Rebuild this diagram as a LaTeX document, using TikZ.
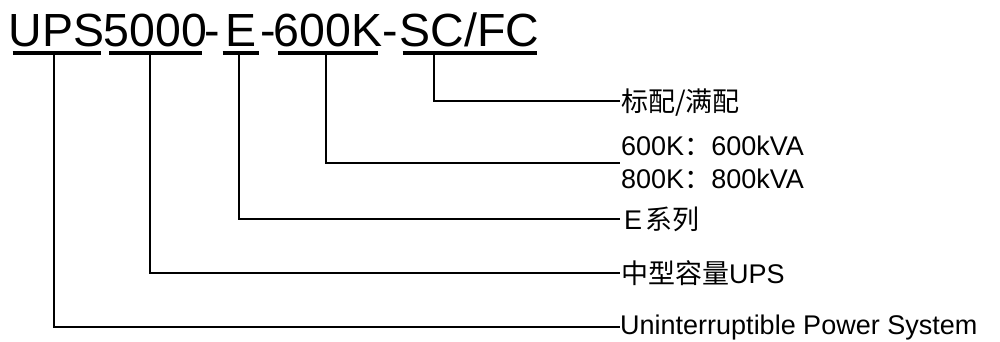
\documentclass[tikz,border=0pt]{standalone}
\usepackage{fontspec}
\setmainfont{Liberation Sans}
\newfontfamily\cjk{Noto Sans CJK SC}
\begin{document}
\begin{tikzpicture}[x=1pt,y=-1pt,
  ttl/.style={inner sep=0pt, anchor=base, font=\fontsize{46.5}{50}\selectfont},
  lbl/.style={inner sep=0pt, anchor=base west, font=\fontsize{27}{30}\selectfont},
  uline/.style={line width=4.5pt},
  conn/.style={line width=2pt, line join=miter}]
\useasboundingbox[fill=white] (0,0) rectangle (1000,341);
% title segments
\node[ttl] (tUPS) at (56.7,46.7) {UPS};
\node[ttl] (t5000) at (155.5,46.7) {5000};
\node[ttl] (h1) at (212.2,46.7) {-};
\node[ttl] (tE) at (241,46.7) {E};
\node[ttl] (h2) at (268.7,46.7) {-};
\node[ttl] (t600K) at (328.2,46.7) {600K};
\node[ttl] (h3) at (390.5,46.7) {-};
\node[ttl] (tSC) at (469.7,46.7) {SC/FC};
% underlines
\draw[uline] (12.7,53) -- (100.7,53);
\draw[uline] (109.3,53) -- (201.7,53);
\draw[uline] (222.7,53) -- (259.3,53);
\draw[uline] (278,53) -- (378.3,53);
\draw[uline] (402.7,53) -- (536.7,53);
% stem tops
\coordinate (sUPS) at (54.3,55);
\coordinate (s5000) at (150,55);
\coordinate (sE) at (239,55);
\coordinate (s600K) at (325.7,55);
\coordinate (sSC) at (434,55);
% line ends
\coordinate (eSC) at (620,101);
\coordinate (e600K) at (620,163.3);
\coordinate (eE) at (620,218.5);
\coordinate (e5000) at (620,273.3);
\coordinate (eUPS) at (620,326.7);
% labels
\node[lbl] (lSC) at (621,111) {{\cjk 标配/满配}};
\node[lbl] (l600) at (621,155) {600K{\cjk ：}600kVA};
\node[lbl] (l800) at (621,188.3) {800K{\cjk ：}800kVA};
\node[lbl] (lE) at (624,229) {E\hspace{3pt}{\cjk 系列}};
\node[lbl] (l5000) at (621,283.3) {{\cjk 中型容量}UPS};
\node[lbl] (lUPS) at (620,334.5) {Uninterruptible Power System};
% connectors
\draw[conn] (sSC) |- (eSC);
\draw[conn] (s600K) |- (e600K);
\draw[conn] (sE) |- (eE);
\draw[conn] (s5000) |- (e5000);
\draw[conn] (sUPS) |- (eUPS);
\end{tikzpicture}
\end{document}
